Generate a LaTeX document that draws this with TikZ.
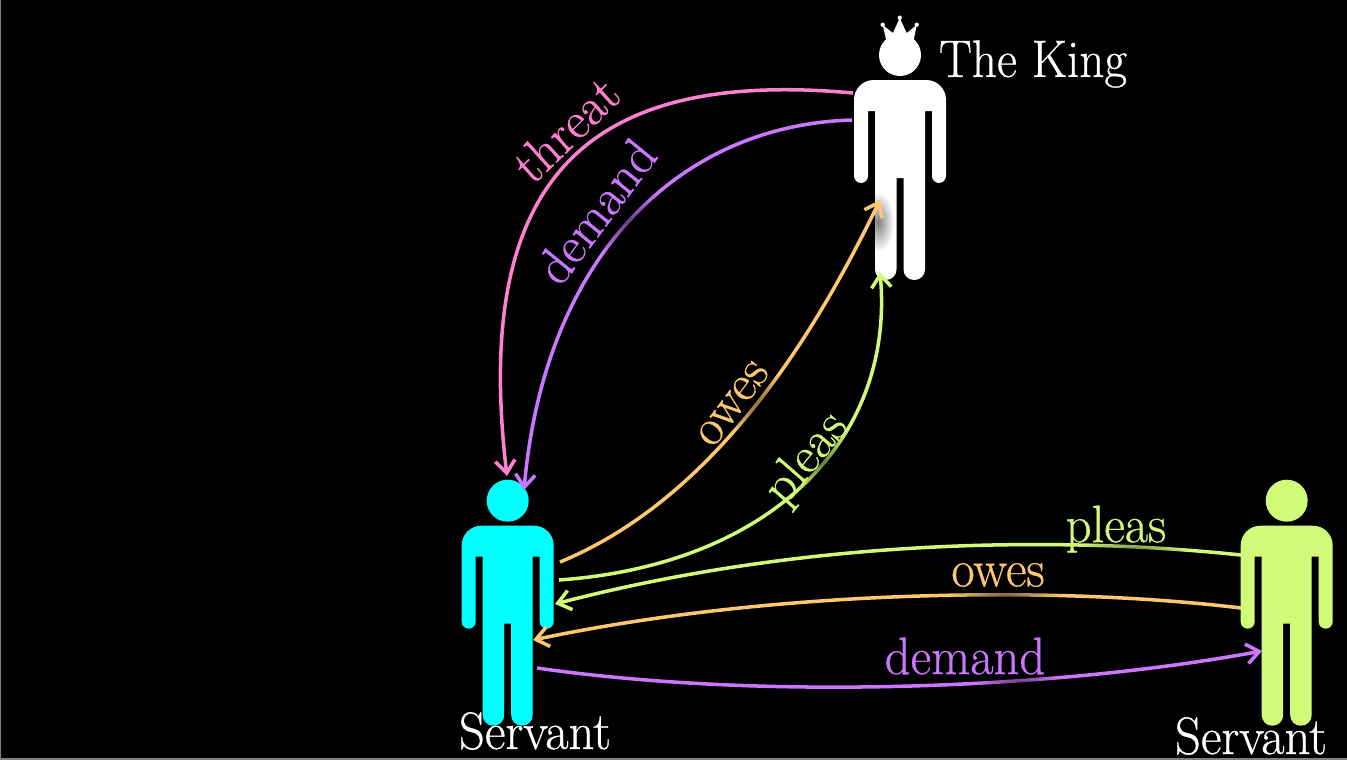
\documentclass[tikz,border=0pt]{standalone}
\usepackage{fontspec}
\usetikzlibrary{arrows.meta,fadings}
\newfontfamily\wordfont[FakeBold=0.6]{Latin Modern Roman}
\definecolor{threatpink}{HTML}{FF80D0}
\definecolor{demandpurple}{HTML}{CC77FF}
\definecolor{owesorange}{HTML}{FFC870}
\definecolor{pleasgreen}{HTML}{D0FA78}
\definecolor{servantcyan}{HTML}{00FFFF}
\tikzset{
    link/.style={line width=1pt},
    linkto/.style={link,-{Straight Barb[length=3.6pt,width=5.6pt,line width=1pt]}},
    word/.style={font=\wordfont\fontsize{15}{15}\selectfont,inner sep=0pt,xscale=.96,transform shape},
    smudge/.style={black,opacity=.5,path fading=fuzzyspot},
}
\tikzfading[name=fuzzyspot,inner color=transparent!0,outer color=transparent!100]
\newcommand{\personfig}[3]{%
    \begin{scope}[shift={(#1,#2)}]
        \fill[#3] (0,0) circle [radius=21];
        \fill[#3] (25,56)
            [rounded corners=3pt]--(25,225)--(3.5,225)
            [sharp corners]--(3.5,123)--(-3.5,123)
            [rounded corners=3pt]--(-3.5,225)--(-25,225)
            [sharp corners]--(-25,56)--(-32,56)
            [rounded corners=2pt]--(-32,128)--(-46,128)
            [rounded corners=5.6pt]--(-46,25)--(46,25)
            [rounded corners=2pt]--(46,128)--(32,128)
            [sharp corners]--(32,56)--cycle;
    \end{scope}
}
\begin{document}
\begin{tikzpicture}[x=0.01cm,y=-0.01cm]
    \useasboundingbox (0,0) rectangle (1347,760);
    \fill[black] (0,0) rectangle (1347,760);
    \fill[gray] (0,0) rectangle (1.5,760);
    \fill[gray] (0,758) rectangle (1347,760);
    % the three figures
    \personfig{900}{55}{white}
    \personfig{507.7}{500.7}{servantcyan}
    \personfig{1286.7}{500.7}{pleasgreen}
    % crown
    \fill[white] (886.7,42)--(882.7,25)--(893,33)--(899.7,18)--(906.7,33)--(916.7,25)--(913.3,42)--cycle;
    \foreach \x/\y in {882.7/24.7,899.7/17.7,916.7/24.7}
        {
            \fill[white] (\x,\y) circle [radius=2.2];
        }
    % ends of the connectors
    \coordinate (kingthreat) at (853,93);
    \coordinate (kingdemand) at (852,120);
    \coordinate (kingowes) at (880,200);
    \coordinate (kingpleas) at (880,272);
    \coordinate (headthreat) at (507,476);
    \coordinate (headdemand) at (524,490);
    \coordinate (sideowes) at (560,562);
    \coordinate (sidepleas) at (559,580);
    \coordinate (backpleas) at (555,604);
    \coordinate (backowes) at (533,640);
    \coordinate (outdemand) at (537,668);
    \coordinate (farpleas) at (1241,555);
    \coordinate (farowes) at (1241,608);
    \coordinate (fardemand) at (1262,651);
    % shadow on the leg
    \begin{scope}
        \clip (875,190) rectangle (896,270);
        \fill[smudge] (878,222) ellipse [x radius=16,y radius=30];
    \end{scope}
    % connectors
    \draw[linkto,threatpink] (kingthreat) .. controls (600,70) and (470,165) .. (headthreat);
    \draw[linkto,demandpurple] (kingdemand) .. controls (680,125) and (545,255) .. (headdemand);
    \draw[linkto,owesorange] (sideowes) .. controls (710,500) and (810,345) .. (kingowes);
    \draw[linkto,pleasgreen] (sidepleas) .. controls (770,565) and (895,440) .. (kingpleas);
    \draw[linkto,pleasgreen] (farpleas) .. controls (1050,535) and (800,540) .. (backpleas);
    \draw[linkto,owesorange] (farowes) .. controls (1050,585) and (770,590) .. (backowes);
    \draw[linkto,demandpurple] (outdemand) .. controls (760,700) and (1050,690) .. (fardemand);
    % shadows of the labels on the connectors
    \foreach \x/\y/\rx/\ry in {625/218/40/40,750/398/38/38,823/463/38/38,1130/550/60/10,1005/595/58/10,1020/682/45/10}
        {
            \fill[smudge] (\x,\y) ellipse [x radius=\rx,y radius=\ry];
        }
    % labels
    \node[word,white,xscale=.97] (kinglabel) at (1033,64) {The King};
    \node[word,white] (servantlabelA) at (535,731) {Servant};
    \node[word,white] (servantlabelB) at (1251,736) {Servant};
    \node[word,threatpink,rotate=43] (threatlabel) at (566,129) {threat};
    \node[word,demandpurple,rotate=52] (demandlabelA) at (596,211) {demand};
    \node[word,owesorange,rotate=52] (oweslabelA) at (733,404) {owes};
    \node[word,pleasgreen,rotate=50] (pleaslabelA) at (807,459) {pleas};
    \node[word,pleasgreen] (pleaslabelB) at (1116,529) {pleas};
    \node[word,owesorange] (oweslabelB) at (998,575) {owes};
    \node[word,demandpurple] (demandlabelB) at (965,656) {demand};
\end{tikzpicture}
\end{document}
